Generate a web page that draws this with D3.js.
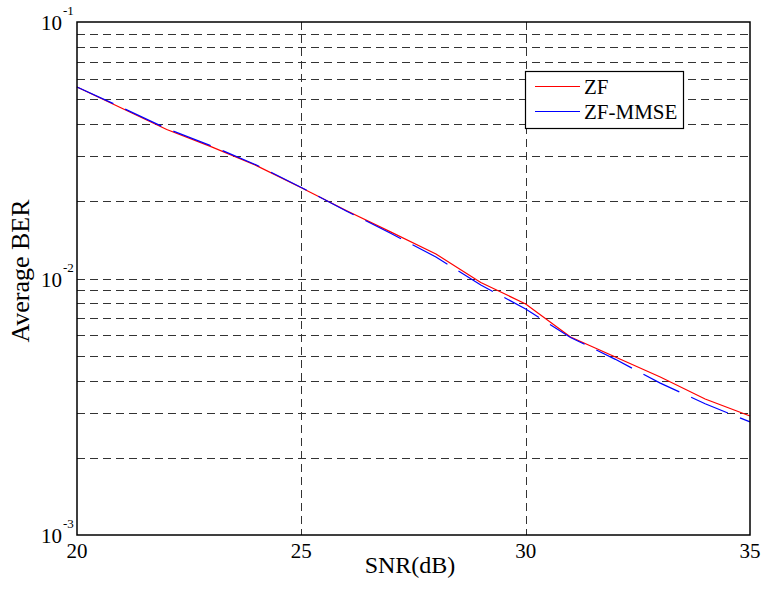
<!DOCTYPE html>
<html><head><meta charset="utf-8">
<script src="https://cdn.jsdelivr.net/npm/d3@7"></script>
<style>body{margin:0;background:#fff}svg{display:block}</style>
</head><body>
<svg id="c" width="763" height="590"></svg>
<script>
const snr = [20,21,22,23,24,25,26,27,28,29,30,31,32,33,34,35];
const berZF = [0.0558,0.0461,0.0381,0.0326,0.02755,0.0226,0.0184,0.01516,0.01246,0.00965,0.00796,0.00591,0.00494,0.00413,0.00339,0.00291];
const berZFMMSE = [0.0558,0.0464,0.0384,0.03285,0.0277,0.02264,0.01833,0.01498,0.01213,0.00943,0.00761,0.00589,0.00484,0.00391,0.00325,0.00276];
const xTicks = [20,25,30,35];
const yMajor = [1e-3,1e-2,1e-1];
const seriesNames = ["ZF","ZF-MMSE"];
const seriesColors = ["#ff0000","#0000ff"];

const L=77,R=750,T=22,B=535;
const svg=d3.select("#c");
const x=d3.scaleLinear().domain([20,35]).range([L,R]);
const y=d3.scaleLog().domain([1e-3,1e-1]).range([B,T]);
const font="'Liberation Serif','Times New Roman',serif";

// grid
const yGrid=[];
[1e-3,1e-2].forEach(d=>{for(let k=1;k<10;k++){const v=d*k; if(v>1e-3 && v<1e-1) yGrid.push(v);}});
svg.append("g").selectAll("line").data(yGrid).join("line")
  .attr("x1",L).attr("x2",R).attr("y1",d=>Math.round(y(d))+0.5).attr("y2",d=>Math.round(y(d))+0.5)
  .attr("stroke","#333").attr("stroke-width",1).attr("stroke-dasharray","8,5");
svg.append("g").selectAll("line").data(xTicks.filter(d=>d>20&&d<35)).join("line")
  .attr("x1",d=>Math.round(x(d))+0.5).attr("x2",d=>Math.round(x(d))+0.5).attr("y1",T).attr("y2",B)
  .attr("stroke","#333").attr("stroke-width",1).attr("stroke-dasharray","8,5");

// lines
const line=d3.line().x((d,i)=>x(snr[i])).y(d=>y(d));
svg.append("path").datum(berZF).attr("d",line).attr("fill","none")
  .attr("stroke",seriesColors[0]).attr("stroke-width",1.2);
svg.append("path").datum(berZFMMSE).attr("d",line).attr("fill","none")
  .attr("stroke",seriesColors[1]).attr("stroke-width",1.2).attr("stroke-dasharray","40,13");

// frame
svg.append("rect").attr("x",L).attr("y",T).attr("width",R-L).attr("height",B-T)
  .attr("fill","none").attr("stroke","#000").attr("stroke-width",1.5);

// x tick labels
svg.append("g").selectAll("text").data(xTicks).join("text")
  .attr("x",d=>x(d)).attr("y",B+23).attr("text-anchor","middle")
  .attr("font-family",font).attr("font-size",21).text(d=>d);

// y tick labels
const yl=svg.append("g").selectAll("g").data(yMajor).join("g");
yl.append("text").attr("x",62).attr("y",d=>y(d)+8).attr("text-anchor","end")
  .attr("font-family",font).attr("font-size",21).text("10");
yl.append("text").attr("x",63).attr("y",d=>y(d)-7)
  .attr("font-family",font).attr("font-size",13).text(d=>String(Math.round(Math.log10(d))));

// axis labels
svg.append("text").attr("x",410).attr("y",B+38).attr("text-anchor","middle")
  .attr("font-family",font).attr("font-size",24).text("SNR(dB)");
svg.append("text").attr("transform","translate(29,271) rotate(-90)").attr("text-anchor","middle")
  .attr("font-family",font).attr("font-size",26).text("Average BER");

// legend
const lg=svg.append("g");
lg.append("rect").attr("x",525.5).attr("y",71.5).attr("width",158).attr("height",57)
  .attr("fill","#fff").attr("stroke","#000").attr("stroke-width",1.2);
seriesNames.forEach((n,i)=>{
  const yy=86.5+25*i;
  lg.append("line").attr("x1",535).attr("x2",580).attr("y1",yy).attr("y2",yy)
    .attr("stroke",seriesColors[i]).attr("stroke-width",1.2);
  lg.append("text").attr("x",584).attr("y",yy+7).attr("font-family",font).attr("font-size",21).text(n);
});
</script>
</body></html>
